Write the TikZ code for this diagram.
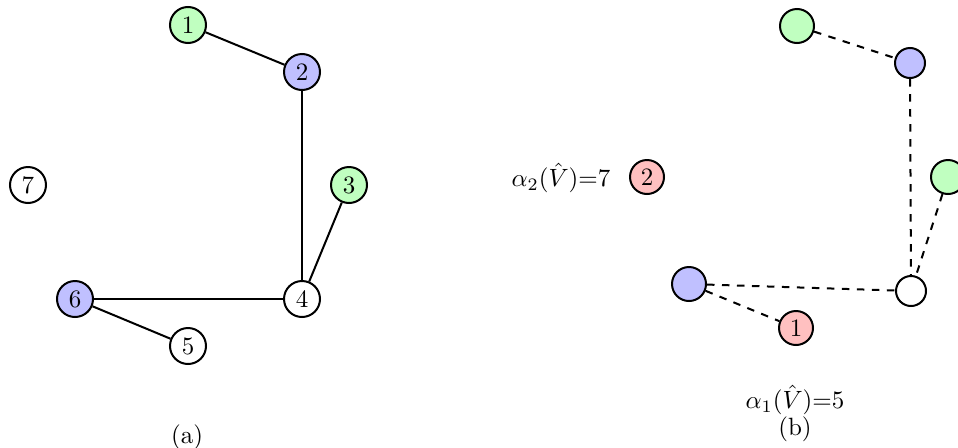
\documentclass[tikz,border=0pt]{standalone}
\usetikzlibrary{calc}
\definecolor{vgreen}{RGB}{192,255,192}
\definecolor{vblue}{RGB}{192,192,255}
\definecolor{vred}{RGB}{255,192,192}
\tikzset{
  vtx/.style={circle,draw=black,line width=0.8pt,minimum size=14.4pt,inner sep=0pt,font=\normalsize},
  vtxb/.style={vtx,minimum size=13.6pt},
  vtxs/.style={vtx,minimum size=12pt},
  edge/.style={line width=0.8pt},
  dedge/.style={line width=0.8pt,dashed},
  lbl/.style={inner sep=0pt}
}
\begin{document}
\begin{tikzpicture}[x=0.4pt,y=-0.4pt]
\useasboundingbox (0,0) rectangle (958,447);
% panel (a)
\node[vtx,fill=vgreen] (a1) at (188,25) {1};
\node[vtx,fill=vblue]  (a2) at (302,72) {2};
\node[vtx,fill=vgreen] (a3) at (349,185) {3};
\node[vtx,fill=white]  (a4) at (302,299) {4};
\node[vtx,fill=white]  (a5) at (188,346) {5};
\node[vtx,fill=vblue]  (a6) at (75,299) {6};
\node[vtx,fill=white]  (a7) at (28,185) {7};
\draw[edge] (a1) -- (a2);
\draw[edge] (a2) -- (a4);
\draw[edge] (a3) -- (a4);
\draw[edge] (a4) -- (a6);
\draw[edge] (a6) -- (a5);
\node[lbl] (capa) at (187,437) {(a)};
% panel (b)
\node[vtxb,fill=vgreen] (gT) at (797,26) {};
\node[vtxs,fill=vblue]  (bT) at (910,63) {};
\node[vtxb,fill=vgreen] (gR) at (948,177) {};
\node[vtxs,fill=white]  (wB) at (911,291) {};
\node[vtxb,fill=vblue]  (bL) at (689,284) {};
\node[vtxb,fill=vred]   (r1) at (796,328) {1};
\node[vtxb,fill=vred]   (r2) at (647,177) {2};
\draw[dedge] (gT) -- (bT);
\draw[dedge] (bT) -- (wB);
\draw[dedge] (gR) -- (wB);
\draw[dedge] (bL) -- (wB);
\draw[dedge] (bL) -- (r1);
\node[lbl] (t2) at (561,178) {$\alpha_2(\hat{V})$=7};
\node[lbl] (t1) at (795,400) {$\alpha_1(\hat{V})$=5};
\node[lbl] (capb) at (795,429) {(b)};
\end{tikzpicture}
\end{document}
